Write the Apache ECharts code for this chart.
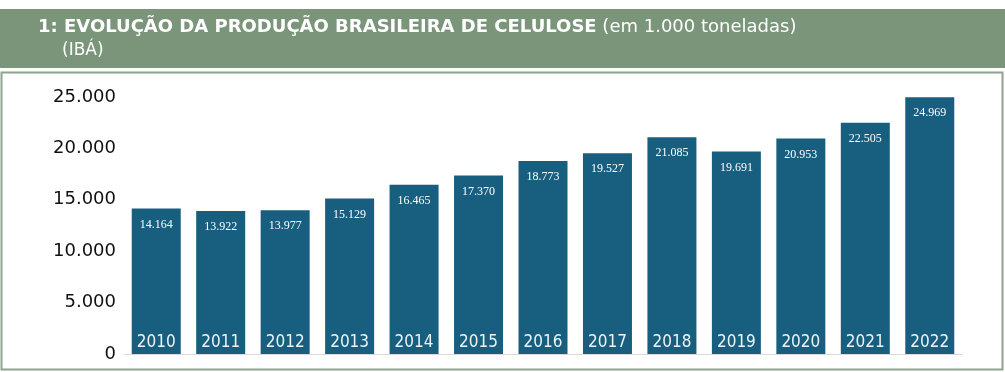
<!DOCTYPE html>
<html>
<head>
<meta charset="utf-8">
<script src="https://cdn.jsdelivr.net/npm/echarts@6/dist/echarts.min.js"></script>
<style>
html,body{margin:0;padding:0;background:#fff;}
#c{width:1005px;height:372px;}
</style>
</head>
<body>
<div id="c"></div>
<script>
var categories = ['2010','2011','2012','2013','2014','2015','2016','2017','2018','2019','2020','2021','2022'];
var values = [14164, 13922, 13977, 15129, 16465, 17370, 18773, 19527, 21085, 19691, 20953, 22505, 24969];
var yTicks = [0, 5000, 10000, 15000, 20000, 25000];

function fmt(v){ return String(v).replace(/\B(?=(\d{3})+(?!\d))/g, '.'); }

var chart = echarts.init(document.getElementById('c'), null, {renderer:'canvas'});
chart.setOption({
  animation:false,
  title:[{
    left:33, top:13,
    text:'{b|1: EVOLUÇÃO DA PRODUÇÃO BRASILEIRA DE CELULOSE}{n| (em 1.000 toneladas)}',
    textStyle:{
      rich:{
        b:{fontFamily:'DejaVu Sans', fontWeight:'bold', fontSize:18, color:'#ffffff'},
        n:{fontFamily:'DejaVu Sans', fontWeight:'normal', fontSize:18, color:'#ffffff'}
      }
    }
  },{
    left:57, top:37,
    text:'(IBÁ)',
    textStyle:{fontFamily:'DejaVu Sans', fontWeight:'normal', fontSize:17, color:'#ffffff'}
  }],
  graphic:[
    {type:'rect', z:-10, shape:{x:0,y:9,width:1005,height:59}, style:{fill:'#7a957a'}},
    {type:'rect', z:-10, shape:{x:1.5,y:72.5,width:1001,height:297}, style:{fill:'#ffffff', stroke:'#8ea48e', lineWidth:2}}
  ],
  grid:{left:124, right:43, top:97, bottom:18},
  xAxis:{
    type:'category', data:categories, z:10,
    axisLine:{lineStyle:{color:'#d9d9d9', width:1}},
    axisTick:{show:false},
    axisLabel:{inside:true, margin:3, color:'#eef3f6', fontFamily:'DejaVu Sans Condensed, Noto Sans', fontSize:17}
  },
  yAxis:{
    type:'value', min:0, max:25000, interval:5000,
    axisLine:{show:false}, axisTick:{show:false}, splitLine:{show:false},
    axisLabel:{margin:8, color:'#111111', fontFamily:'DejaVu Sans', fontSize:18,
      formatter:function(v){ return fmt(v); }}
  },
  series:[{
    type:'bar', data:values, barCategoryGap:'24%',
    itemStyle:{color:'#175e7f'},
    label:{show:true, position:'insideTop', distance:10, color:'#ffffff',
      fontFamily:'Liberation Serif', fontSize:12,
      formatter:function(p){ return fmt(p.value); }}
  }]
});
</script>
</body>
</html>
